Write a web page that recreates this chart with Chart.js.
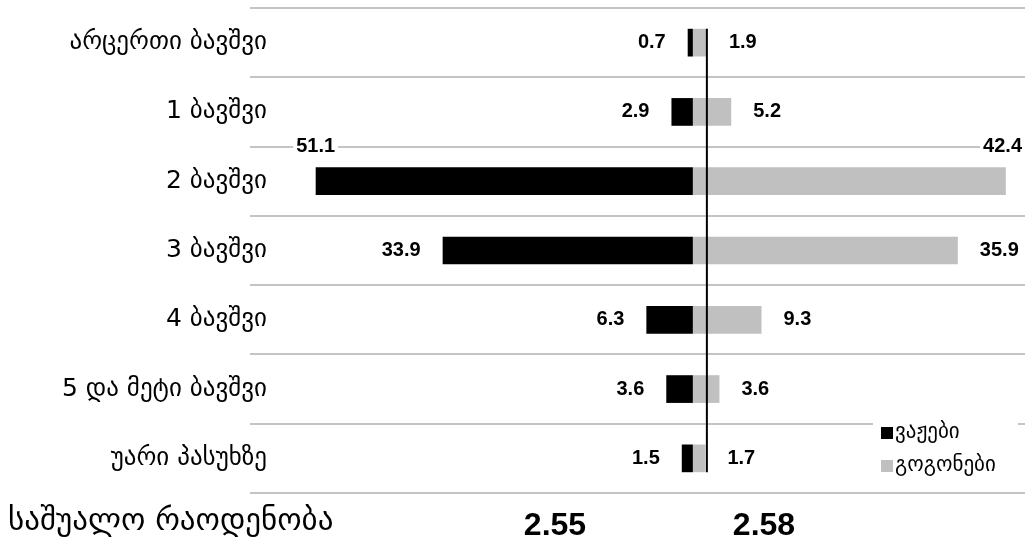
<!DOCTYPE html>
<html>
<head>
<meta charset="utf-8">
<script src="https://cdn.jsdelivr.net/npm/chart.js@4"></script>
<style>
  html, body { margin: 0; padding: 0; background: #fff; }
  #wrap { width: 1025px; height: 543px; position: relative; }
</style>
</head>
<body>
<div id="wrap"><canvas id="kidsChart"></canvas></div>
<script>
const categories = ['არცერთი ბავშვი', '1 ბავშვი', '2 ბავშვი', '3 ბავშვი', '4 ბავშვი', '5 და მეტი ბავშვი', 'უარი პასუხზე'];

const boysData = [0.7, 2.9, 51.1, 33.9, 6.3, 3.6, 1.5]; // ვაჟები
const girlsData = [1.9, 5.2, 42.4, 35.9, 9.3, 3.6, 1.7]; // გოგონები

const averageLabel = 'საშუალო რაოდენობა';
const averages = [2.55, 2.58]; // boys, girls

const geoFont = '"DejaVu Sans", sans-serif';
const numFont = '"Liberation Sans", Arial, sans-serif';

// category names, drawn a bit into the plot so the grid starts left of them
const catLabels = {
    id: 'catLabels',
    afterDraw(chart) {
        const ctx = chart.ctx;
        const yScale = chart.scales.y;
        ctx.save();
        ctx.font = '25px ' + geoFont;
        ctx.fillStyle = '#000';
        ctx.textAlign = 'right';
        ctx.textBaseline = 'middle';
        chart.data.labels.forEach((lab, i) => {
            ctx.fillText(lab, yScale.right + 17, yScale.getPixelForValue(i));
        });
        ctx.restore();
    }
};

// value labels next to the bar ends
const valueLabels = {
    id: 'valueLabels',
    afterDatasetsDraw(chart) {
        const ctx = chart.ctx;
        const area = chart.chartArea;
        ctx.save();
        ctx.font = 'bold 20px ' + numFont;
        ctx.fillStyle = '#000';
        ctx.textBaseline = 'middle';
        chart.data.datasets.forEach((ds, i) => {
            const meta = chart.getDatasetMeta(i);
            meta.data.forEach((bar, j) => {
                const v = Math.abs(ds.data[j]);
                const txt = v.toFixed(1);
                const w = ctx.measureText(txt).width;
                if (v > 40) {
                    // long bars: label sits above the bar end
                    let x = Math.min(bar.x, area.right - w / 2 - 3);
                    const y = bar.y - bar.height / 2 - 21;
                    ctx.fillStyle = '#fff';
                    ctx.fillRect(x - w / 2 - 3, y - 10, w + 6, 20);
                    ctx.fillStyle = '#000';
                    ctx.textAlign = 'center';
                    ctx.fillText(txt, x, y);
                } else if (ds.data[j] < 0) {
                    ctx.textAlign = 'right';
                    ctx.fillText(txt, bar.x - 22, bar.y);
                } else {
                    ctx.textAlign = 'left';
                    ctx.fillText(txt, bar.x + 22, bar.y);
                }
            });
        });
        ctx.restore();
    }
};

// vertical black rule through the bars
const refLine = {
    id: 'refLine',
    afterDatasetsDraw(chart, args, opts) {
        const ctx = chart.ctx;
        const x = chart.scales.x.getPixelForValue(opts.value);
        const bars = chart.getDatasetMeta(0).data;
        const top = bars[0].y - bars[0].height / 2;
        const last = bars[bars.length - 1];
        const bottom = last.y + last.height / 2;
        ctx.save();
        ctx.strokeStyle = '#000';
        ctx.lineWidth = 2;
        ctx.beginPath();
        ctx.moveTo(x, top);
        ctx.lineTo(x, bottom);
        ctx.stroke();
        ctx.restore();
    }
};

// legend box in the lower right + the average row below the chart
const extras = {
    id: 'extras',
    afterDraw(chart) {
        const ctx = chart.ctx;
        ctx.save();
        ctx.fillStyle = '#fff';
        ctx.fillRect(873, 418, 145, 64);
        ctx.textBaseline = 'middle';
        ctx.textAlign = 'left';
        ctx.font = '21px ' + geoFont;
        chart.data.datasets.forEach((ds, i) => {
            const y = 433 + i * 33;
            ctx.fillStyle = ds.backgroundColor;
            ctx.fillRect(881, y - 6, 12, 12);
            ctx.fillStyle = '#000';
            ctx.fillText(ds.label, 895, y);
        });

        ctx.textBaseline = 'alphabetic';
        ctx.font = '31px ' + geoFont;
        ctx.fillText(averageLabel, 8, 530);
        ctx.font = 'bold 32px ' + numFont;
        ctx.textAlign = 'center';
        ctx.fillText(averages[0].toFixed(2), 555, 535);
        ctx.fillText(averages[1].toFixed(2), 764, 535);
        ctx.restore();
    }
};

const ctxKids = document.getElementById('kidsChart').getContext('2d');
const kidsChart = new Chart(ctxKids, {
    type: 'bar',
    data: {
        labels: categories,
        datasets: [{
            label: 'ვაჟები',
            data: boysData.map(v => -v),
            backgroundColor: '#000000',
            barPercentage: 0.4,
            categoryPercentage: 1.0,
        }, {
            label: 'გოგონები',
            data: girlsData,
            backgroundColor: '#c0c0c0',
            barPercentage: 0.4,
            categoryPercentage: 1.0,
        }]
    },
    options: {
        indexAxis: 'y',
        responsive: true,
        maintainAspectRatio: false,
        animation: false,
        layout: { padding: { top: 8, bottom: 50, left: 0, right: 0 } },
        scales: {
            x: {
                display: false,
                stacked: true,
                min: -60,
                max: 45,
            },
            y: {
                stacked: true,
                grid: { offset: true, color: '#c4c4c4', lineWidth: 2, drawTicks: false },
                border: { display: false },
                ticks: { display: false },
                afterFit(scale) { scale.width = 250; }
            }
        },
        plugins: {
            legend: { display: false },
            tooltip: { enabled: false },
            refLine: { value: 1.9 }
        }
    },
    plugins: [valueLabels, refLine, catLabels, extras]
});
</script>
</body>
</html>
